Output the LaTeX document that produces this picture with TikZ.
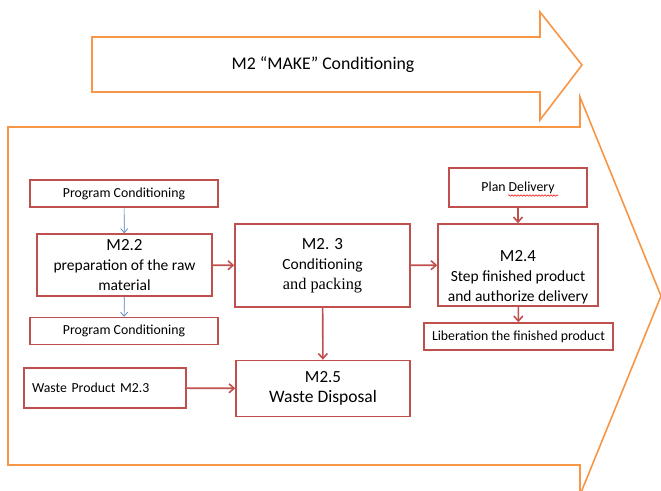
\documentclass[tikz,border=0pt]{standalone}
\usepackage{fontspec}
\setmainfont{Carlito}
\newfontfamily\serifpart{Liberation Serif}
\usetikzlibrary{arrows.meta,decorations.pathmorphing}

\definecolor{boxred}{RGB}{192,80,77}
\definecolor{arroworange}{RGB}{247,150,70}
\definecolor{linkblue}{RGB}{79,129,189}

\tikzset{
  smallbox/.style={draw=boxred, line width=1.6pt, minimum height=27pt, inner sep=2pt,
    font=\fontsize{13.8}{16}\selectfont},
  mainbox/.style={draw=boxred, line width=1.6pt, align=center, inner sep=2pt,
    font=\fontsize{15.5}{20}\selectfont},
  redlink/.style={draw=boxred, line width=1.6pt, -{Straight Barb[length=5pt,width=9pt]}},
  bluelink/.style={draw=linkblue, line width=0.7pt, -{Straight Barb[length=4pt,width=7pt]}},
  bigarrow/.style={draw=arroworange, line width=1.6pt, line join=miter}
}
\newcommand{\titlesize}{\fontsize{17}{20}\selectfont}

\begin{document}
\begin{tikzpicture}[x=1pt,y=-1pt]
  \useasboundingbox (0,0) rectangle (661,490);
  \clip (0,0) rectangle (661,490);

  % process arrows
  \draw[bigarrow] (92,37) -- (540,37) -- (540,12) -- (582,65) -- (540,120) -- (540,92) -- (92,92) -- cycle;
  \node[font=\fontsize{17.8}{20}\selectfont] (make) at (323,65) {M2 ``MAKE'' Conditioning};

  \draw[bigarrow] (8,127) -- (580,127) -- (580,97) -- (661,296) -- (580,495) -- (580,465) -- (8,465) -- cycle;

  % boxes
  \node[smallbox, minimum width=188pt] (pc1) at (124,193.5) {Program Conditioning};
  \node[mainbox, minimum width=175pt, minimum height=62pt] (m22) at (124.5,265)
    {{\titlesize M2.2}\\preparation of the raw\\material};
  \node[smallbox, minimum width=188pt] (pc2) at (124,331) {Program Conditioning};

  \node[mainbox, minimum width=175pt, minimum height=83pt] (m23) at (322.5,265.5)
    {{\titlesize M2. 3}\\Conditioning\\{\serifpart\fontsize{16.3}{20}\selectfont and packing}};

  \node[smallbox, minimum width=138pt, minimum height=39pt] (plan) at (518,187.5) {Plan Delivery};
  \draw[red, line width=0.5pt, decorate, decoration={snake, amplitude=0.8pt, segment length=3pt}]
    (plan.center) ++(-10,8) -- ++(50,0);

  \node[mainbox, minimum width=160pt, minimum height=82pt] (m24) at (518,265) {};
  \node[align=center, font=\fontsize{15.5}{20}\selectfont] (m24txt) at (518,277)
    {{\titlesize M2.4}\\Step finished product\\and authorize delivery};
  \node[smallbox, minimum width=189pt] (lib) at (518.5,336.5) {Liberation the finished product};

  \node[smallbox, minimum width=162pt, minimum height=40pt, text width=146pt, align=left] (waste) at (105,388)
    {Waste Product M2.3};
  \node[mainbox, minimum width=174pt, minimum height=56pt] (m25) at (323,388.5)
    {{\titlesize M2.5}\\{\fontsize{17.5}{20}\selectfont Waste Disposal}};

  % links
  \draw[bluelink] (pc1) -- (m22);
  \draw[bluelink] (m22) -- (pc2);
  \draw[redlink] (m22) -- (m23);
  \draw[redlink] (m23) -- (m24);
  \draw[redlink] (plan) -- (m24);
  \draw[redlink] (m24) -- (lib);
  \draw[redlink] (m23) -- (m25);
  \draw[redlink] (waste) -- (m25);
\end{tikzpicture}
\end{document}
